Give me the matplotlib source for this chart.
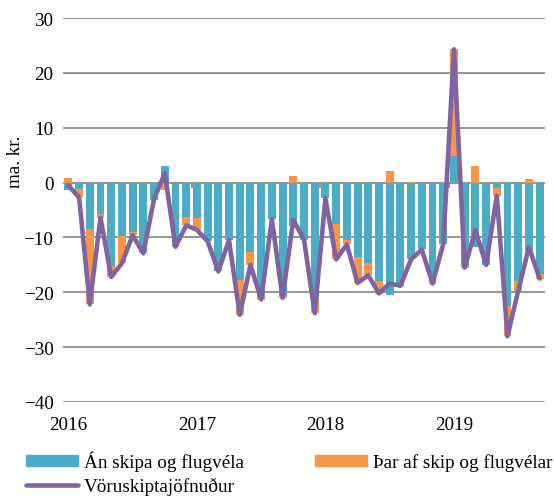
import numpy as np
import matplotlib
matplotlib.use("Agg")
import matplotlib.pyplot as plt
from matplotlib.patches import Patch
from matplotlib.lines import Line2D

# --- Gögn (mánaðarleg, jan 2016 - sep 2019) ---
ar_merki = ["2016", "2017", "2018", "2019"]

an_skipa = [-1.3, -1.1, -8.5, -5.8, -15.2, -9.8, -9.1, -12.9, -3.0, 3.0, -11.5, -6.2,
            -6.5, -10.7, -16.2, -10.5, -17.8, -12.7, -21.0, -6.7, -20.6, -8.0, -10.2, -21.3,
            -2.9, -7.6, -10.5, -13.5, -14.6, -18.0, -20.5, -18.8, -14.0, -12.2, -18.0, -11.2,
            4.8, -15.2, -11.8, -15.0, -0.9, -22.5, -17.9, -12.5, -16.7]

skip_flug = [0.9, -1.6, -13.7, -0.7, -2.0, -4.9, -0.5, 0.0, -0.1, -1.3, -0.2, -1.6,
             -2.1, 0.0, 0.0, 0.0, -6.3, -2.3, -0.4, 0.0, -0.5, 1.2, -0.3, -2.4,
             0.0, -6.4, -0.7, -4.8, -2.3, -2.3, 2.1, 0.0, 0.1, 0.0, -0.4, 0.0,
             19.5, -0.4, 3.1, 0.0, -1.5, -5.5, -1.8, 0.7, -0.9]

jofnudur = [-0.5, -2.7, -22.2, -6.4, -17.2, -14.7, -9.6, -12.9, -3.0, 1.7, -11.7, -7.8,
            -8.6, -10.7, -16.2, -10.5, -24.1, -15.0, -21.3, -6.7, -21.0, -6.8, -10.4, -23.8,
            -2.9, -14.0, -11.3, -18.3, -16.9, -20.2, -18.4, -18.8, -14.0, -12.2, -18.4, -11.2,
            24.3, -15.5, -8.7, -15.0, -2.4, -28.0, -19.7, -11.8, -17.5]

TEAL = "#4BACC6"
ORANGE = "#F79646"
PURPLE = "#8064A2"
GRID = "#8C8C8C"

plt.rcParams["font.family"] = ["Liberation Serif", "DejaVu Serif"]
FS = 13.8

fig = plt.figure(figsize=(5.54, 5.02), dpi=100)
ax = fig.add_axes([63 / 554, 1 - 403 / 502, 482 / 554, 384 / 502])

x = np.arange(len(an_skipa))
teal = np.array(an_skipa)
orange = np.array(skip_flug)
# Excel staflar jákvæðum og neikvæðum gildum sitt í hvoru lagi
botn = np.where(np.sign(orange) == np.sign(teal), teal, 0)

ax.bar(x, teal, width=0.74, color=TEAL, zorder=2)
ax.bar(x, orange, bottom=botn, width=0.74, color=ORANGE, zorder=2)
ax.plot(x, jofnudur, color=PURPLE, lw=3.3, zorder=3,
        solid_joinstyle="round", solid_capstyle="round")

ax.set_xlim(-0.5, len(x) - 0.5)
ax.set_ylim(-40, 30)
ax.set_yticks(range(-40, 31, 10))
ax.yaxis.grid(True, color=GRID, lw=1.3, zorder=0)
ax.set_axisbelow(True)
for s in ax.spines.values():
    s.set_visible(False)

# merki við áramót á núll-ásnum
ax.vlines(np.arange(11.5, len(x), 12), -0.9, 0, color=GRID, lw=1.2, zorder=1)

ax.set_xticks(np.arange(0, len(x), 12))
ax.set_xticklabels(ar_merki)
ax.tick_params(axis="x", length=0, pad=10, labelsize=FS)
ax.tick_params(axis="y", length=0, pad=7, labelsize=FS)

fig.text(16 / 554, 1 - 162 / 502, "ma. kr.", rotation=90, fontsize=FS,
         ha="center", va="center")

handles = [Patch(color=TEAL, label="Án skipa og flugvéla"),
           Line2D([], [], color=PURPLE, lw=3.3, solid_capstyle="round", label="Vöruskiptajöfnuður"),
           Patch(color=ORANGE, label="Þar af skip og flugvélar")]
fig.legend(handles=handles, ncol=2, loc="upper left",
           bbox_to_anchor=(26 / 554, 1 - 452 / 502), frameon=False,
           fontsize=FS, handlelength=2.7, handleheight=0.5, handletextpad=0.3,
           columnspacing=3.75, labelspacing=0.3, borderpad=0, borderaxespad=0)

fig.savefig("out.png", dpi=100)
